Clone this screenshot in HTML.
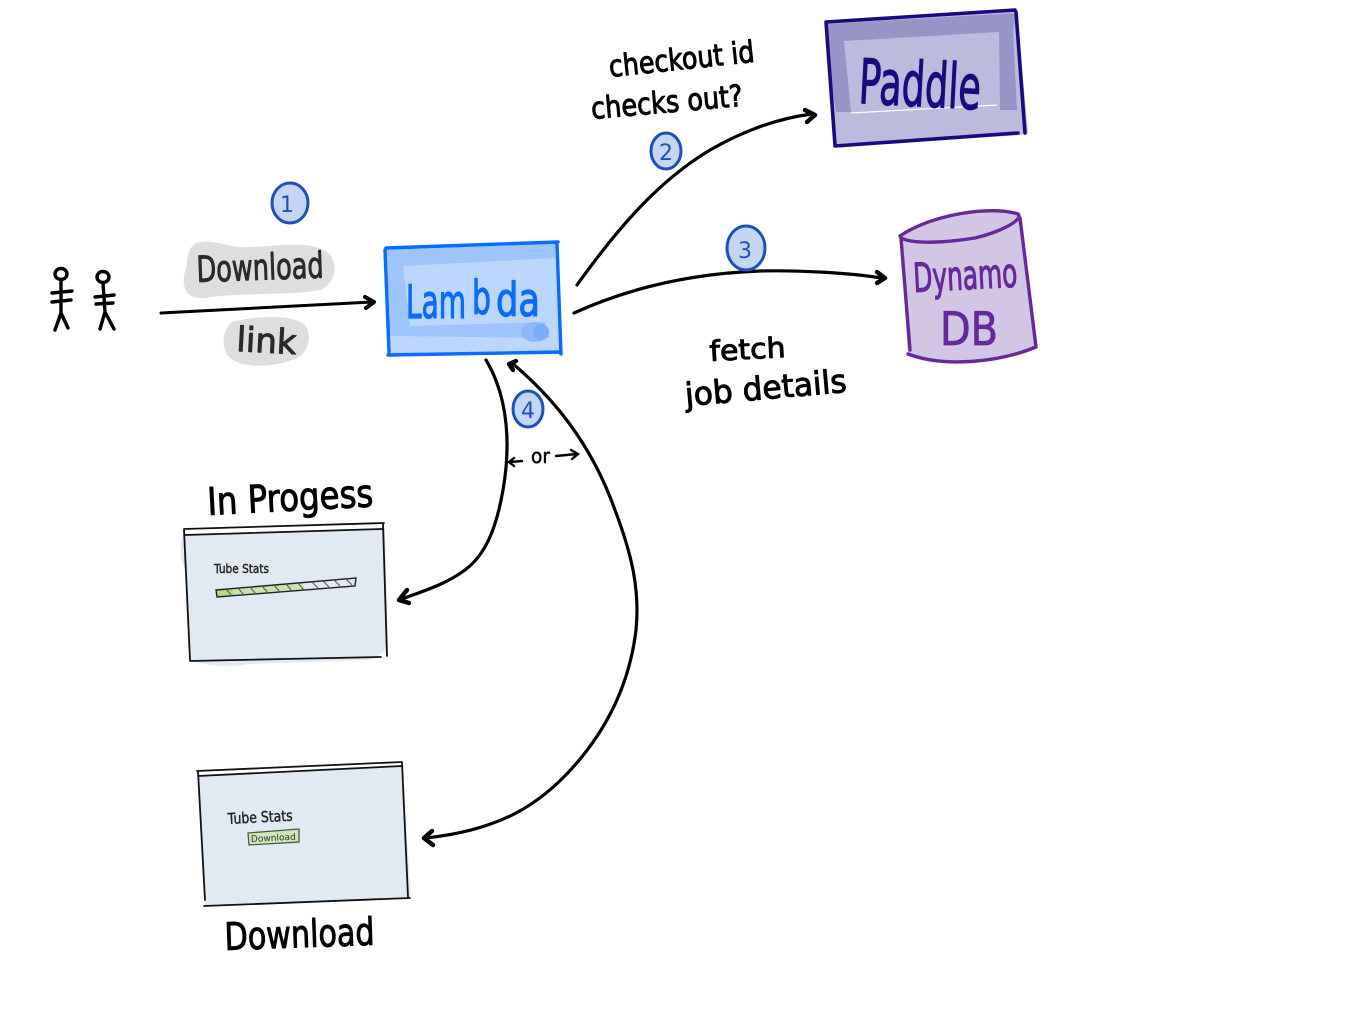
<!DOCTYPE html>
<html><head><meta charset="utf-8"><style>
html,body{margin:0;padding:0;background:#fff}
svg{display:block}
text{font-family:"DejaVu Sans","Liberation Sans",sans-serif}
.k{fill:#000;stroke:#000;stroke-width:1;stroke-linejoin:round}
</style></head><body>
<svg width="1358" height="1020" viewBox="0 0 1358 1020" xmlns="http://www.w3.org/2000/svg">
<rect width="1358" height="1020" fill="#fff"/>

<!-- stick figures -->
<g fill="none" stroke="#000" stroke-width="3.4" stroke-linecap="round">
<ellipse cx="61" cy="274" rx="6" ry="5.5"/><path d="M61 280L61 313M52 293L72 291M52 302L71 300M61 313L55 330M61 313L68 328"/>
<ellipse cx="103" cy="277" rx="6" ry="5.5"/><path d="M103 283L105 312M95 297L114 295M96 304L113 303M105 312L100 329M105 312L114 329"/>
</g>

<!-- grey highlights -->
<g fill="#dedede">
<path d="M196 243C215 238 225 248 250 247C280 246 310 240 327 252C340 262 335 285 320 290C290 296 240 292 205 298C185 300 180 285 186 268C188 255 188 248 196 243Z"/>
<path d="M232 322C255 316 290 314 304 324C314 336 308 356 292 360C276 366 245 370 230 358C220 348 222 330 232 322Z"/>
</g>
<text class="k" x="197" y="282" font-size="36" style="fill:#2a2a2a;stroke:#2a2a2a" transform="rotate(-2 197 282)" textLength="127" lengthAdjust="spacingAndGlyphs">Download</text>
<text class="k" x="236" y="351" font-size="34" style="fill:#2a2a2a;stroke:#2a2a2a" transform="rotate(3 236 351)" textLength="60" lengthAdjust="spacingAndGlyphs">link</text>

<!-- Arrow 1 -->
<g fill="none" stroke="#000" stroke-width="3" stroke-linecap="round" stroke-linejoin="round">
<path d="M161 313C230 309 300 306 372 302"/>
<path d="M365 297L374 302L366 308" stroke-width="4"/>
</g>

<!-- Lambda -->
<path d="M385 248L558 241L562 354L388 356Z" fill="#bcd7ff"/>
<path d="M385 247L557 243L557 258L403 266L410 326L545 322L550 338L388 336Z" fill="#9dc5fc"/>
<ellipse cx="535" cy="332" rx="14" ry="10" fill="#8ab8fa"/>
<ellipse cx="541" cy="332" rx="8" ry="8" fill="#78adf9"/>
<g fill="none" stroke="#0a6cff" stroke-width="3.4" stroke-linecap="round">
<path d="M386 248L558 242M385 250L389 352M557 243L561 354M388 355L561 352"/>
</g>
<g style="fill:#0a6cff;stroke:#0a6cff;stroke-width:1.2;stroke-linejoin:round" font-size="46">
<text x="406" y="318" textLength="60" lengthAdjust="spacingAndGlyphs">Lam</text>
<text x="472" y="314" textLength="19" lengthAdjust="spacingAndGlyphs">b</text>
<text x="496" y="316" textLength="44" lengthAdjust="spacingAndGlyphs">da</text>
</g>

<!-- Paddle -->
<path d="M826 22L1017 11L1028 133L1020 135L836 147Z" fill="#bdbbdd"/>
<path d="M828 24L1016 13L1013 32L1017 110L1000 110L999 32L844 41L851 112L836 112L828 60Z" fill="#9795c5"/>
<path d="M851 113L997 105" stroke="#fff" stroke-width="1.2" fill="none"/>
<g fill="none" stroke="#1a0a80" stroke-width="3.6" stroke-linecap="round">
<path d="M826 22L1015 10M826 22L835 145M1016 12L1025 133M835 146L1018 133"/>
</g>
<text x="858" y="103" font-size="62" style="fill:#1a0a80;stroke:#1a0a80;stroke-width:1.2" transform="rotate(3 858 103)" textLength="122" lengthAdjust="spacingAndGlyphs">Paddle</text>

<!-- Dynamo -->
<path d="M900 237C930 215 990 205 1018 214L1021 222L1037 347C1000 362 950 368 908 356Z" fill="#d3c6e4"/>
<g fill="none" stroke="#66289a" stroke-width="3.4" stroke-linecap="round">
<path d="M900 236C930 215 990 205 1018 214C1024 220 1000 232 975 238C950 242 915 245 901 238"/>
<path d="M901 238L910 350M1020 218L1036 347M908 354C945 368 1000 362 1036 347"/>
</g>
<text x="914" y="292" font-size="40" style="fill:#66289a;stroke:#66289a;stroke-width:1.2" transform="rotate(-3 914 292)" textLength="104" lengthAdjust="spacingAndGlyphs">Dynamo</text>
<text x="940" y="345" font-size="46" style="fill:#66289a;stroke:#66289a;stroke-width:.8" textLength="58" lengthAdjust="spacingAndGlyphs">DB</text>

<!-- Arrows -->
<g fill="none" stroke="#000" stroke-width="3.2" stroke-linecap="round" stroke-linejoin="round">
<path d="M577 285C620 225 660 180 710 150C745 130 780 118 812 114"/>
<path d="M805 110L815 115L807 122" stroke-width="4.4"/>
<path d="M574 313C620 292 680 274 760 271C800 270 850 273 882 278"/>
<path d="M877 272L885 278L877 283" stroke-width="4.4"/>
<path d="M486 360C510 400 510 450 503 490C496 530 485 555 465 570C445 585 420 592 402 599"/>
<path d="M407 590L399 600L409 603" stroke-width="4.4"/>
<path d="M512 363C550 395 590 440 615 510C632 555 640 590 636 630C630 680 610 725 575 765C540 805 500 830 426 838"/>
<path d="M516 361L509 364L513 370" stroke-width="4.4"/>
<path d="M432 831L424 838L433 845" stroke-width="4.4"/>
</g>

<!-- numbers -->
<g fill="#c5d6f2" stroke="#1c4fc0" stroke-width="3">
<ellipse cx="290" cy="203" rx="18" ry="20"/>
<ellipse cx="666" cy="151" rx="15" ry="18"/>
<ellipse cx="746" cy="248" rx="19" ry="22"/>
<ellipse cx="528" cy="409" rx="15" ry="18"/>
</g>
<g fill="#1c4fc0" font-size="22" text-anchor="middle">
<text x="287" y="212">1</text><text x="666" y="160">2</text><text x="745" y="258">3</text><text x="528" y="418">4</text>
</g>

<!-- Labels -->
<text class="k" x="610" y="77" font-size="30" transform="rotate(-6 610 77)" textLength="146" lengthAdjust="spacingAndGlyphs">checkout id</text>
<text class="k" x="592" y="119" font-size="30" transform="rotate(-5 592 119)" textLength="152" lengthAdjust="spacingAndGlyphs">checks out?</text>
<text class="k" x="710" y="361" font-size="28" transform="rotate(-3 710 361)" textLength="76" lengthAdjust="spacingAndGlyphs">fetch</text>
<text class="k" x="686" y="406" font-size="32" transform="rotate(-5 686 406)" textLength="162" lengthAdjust="spacingAndGlyphs">job details</text>
<text class="k" x="531" y="463" font-size="20" style="stroke-width:.5" textLength="19" lengthAdjust="spacingAndGlyphs">or</text>
<text class="k" x="208" y="515" font-size="38" transform="rotate(-3 208 515)" textLength="166" lengthAdjust="spacingAndGlyphs">In Progess</text>
<text class="k" x="225" y="950" font-size="38" transform="rotate(-2 225 950)" textLength="150" lengthAdjust="spacingAndGlyphs">Download</text>
<g fill="none" stroke="#000" stroke-width="2.4" stroke-linecap="round">
<path d="M510 462L522 461M514 458L509 462L514 466"/>
<path d="M556 456L577 454M571 450L578 454L572 459"/>
</g>

<!-- In Progress box -->
<path d="M181 545C180 535 190 530 200 533L385 528L388 650L370 660L250 664C230 668 205 666 190 660L186 570C180 560 180 552 181 545Z" fill="#e1e9f2"/>
<path d="M184 530L383 524L383 529L185 535Z" fill="#fff"/>
<g fill="none" stroke="#111" stroke-width="1.8" stroke-linecap="round">
<path d="M184 529L384 523M185 535L383 529M184 530L190 660M383 523L387 656M190 661L381 657"/>
</g>
<text x="214" y="573" font-size="12" fill="#222" stroke="#222" stroke-width=".4" textLength="55" lengthAdjust="spacingAndGlyphs">Tube Stats</text>
<path d="M216 590L303 583L304 590L217 597Z" fill="#c9e3b0"/>
<path d="M216 590L232 589L235 596L217 597Z" fill="#aede85"/>
<path d="M216 590L356 578L355 586L217 597Z" fill="none" stroke="#222" stroke-width="1.4"/>
<path d="M226 589l6 7M238 588l6 7M250 587l6 7M262 586l6 7M274 585l6 7M286 584l6 7M298 583l6 7M312 582l6 6M323 581l6 6M334 580l6 6M346 579l6 6" stroke="#555" stroke-width="1" fill="none"/>

<!-- Download box -->
<path d="M199 775L402 766L410 880L411 897L205 905L198 790Z" fill="#e1e9f2"/>
<path d="M198 771L402 762L402 766L198 776Z" fill="#fff"/>
<g fill="none" stroke="#111" stroke-width="1.8" stroke-linecap="round">
<path d="M197 771L402 762M198 776L402 766M198 771L205 900M402 762L408 897M204 906L410 898"/>
</g>
<text x="228" y="824" font-size="15" fill="#222" stroke="#222" stroke-width=".4" transform="rotate(-3 228 824)" textLength="65" lengthAdjust="spacingAndGlyphs">Tube Stats</text>
<path d="M248 833L299 829L299 842L249 845Z" fill="#cfe6bb" stroke="#3c5a30" stroke-width="1.2"/>
<text x="251" y="842" font-size="9" fill="#333" transform="rotate(-3 251 842)" textLength="45" lengthAdjust="spacingAndGlyphs">Download</text>
</svg>
</body></html>
